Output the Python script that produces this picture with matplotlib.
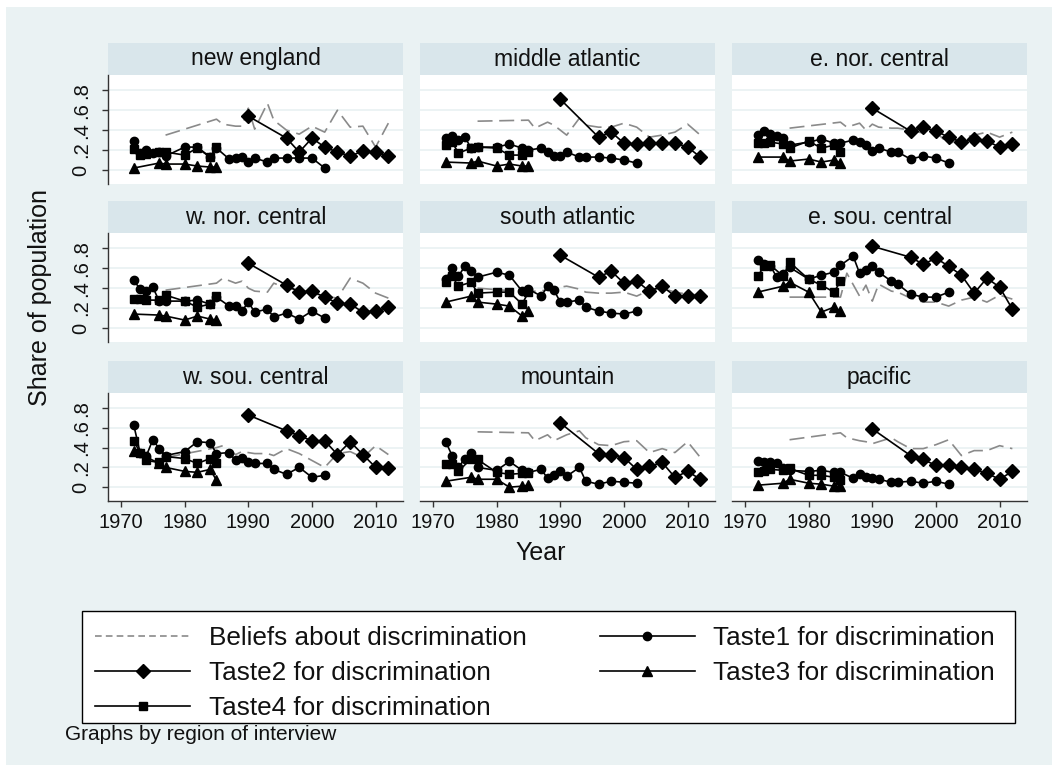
import matplotlib
matplotlib.use("Agg")
import matplotlib.pyplot as plt
from matplotlib.patches import Rectangle
from matplotlib.lines import Line2D

plt.rcParams['font.family'] = ['Liberation Sans', 'DejaVu Sans']

regions = ["new england", "middle atlantic", "e. nor. central",
           "w. nor. central", "south atlantic", "e. sou. central",
           "w. sou. central", "mountain", "pacific"]

years_beliefs = [1977, 1985, 1986, 1988, 1989, 1990, 1991, 1993, 1994, 1996,
                 1998, 2000, 2002, 2004, 2006, 2008, 2010, 2012]
years_t1 = [1972, 1973, 1974, 1975, 1976, 1977, 1980, 1982, 1984, 1985, 1987,
            1988, 1989, 1990, 1991, 1993, 1994, 1996, 1998, 2000, 2002]
years_t2 = [1990, 1996, 1998, 2000, 2002, 2004, 2006, 2008, 2010, 2012]
years_t3 = [1972, 1976, 1977, 1980, 1982, 1984, 1985]
years_t4 = [1972, 1973, 1974, 1976, 1977, 1980, 1982, 1984, 1985]

beliefs = [
    [.35, .51, .46, .44, .44, .62, .41, .67, .50, .40, .36, .44, .38, .60, .43, .44, .23, .47],
    [.49, .50, .42, .48, .45, .40, .35, .52, .45, .43, .43, .47, .43, .33, .35, .38, .46, .35],
    [.42, .48, .43, .47, .40, .46, .43, .42, .42, .40, .37, .38, .26, .32, .35, .38, .33, .38],
    [.38, .45, .50, .45, .47, .40, .37, .36, .45, .40, .38, .35, .32, .30, .50, .45, .35, .30],
    [.40, .36, .37, .38, .40, .41, .42, .39, .36, .35, .35, .36, .32, .38, .40, .36, .34, .33],
    [.31, .31, .55, .32, .43, .27, .44, .37, .36, .30, .26, .26, .22, .28, .31, .26, .33, .29],
    [.30, .40, .42, .33, .36, .35, .34, .34, .32, .39, .34, .27, .20, .34, .36, .30, .42, .33],
    [.56, .55, .47, .53, .47, .50, .53, .57, .50, .43, .42, .46, .47, .35, .39, .35, .46, .30],
    [.48, .55, .50, .47, .46, .44, .46, .50, .46, .39, .39, .43, .48, .32, .37, .37, .42, .39],
]
taste1 = [
    [.29, .17, .20, .17, .18, .14, .23, .23, .13, .22, .11, .12, .13, .08, .12, .08, .12, .12, .12, .12, .02],
    [.32, .34, .30, .33, .22, .23, .23, .26, .22, .20, .22, .18, .14, .14, .18, .13, .13, .13, .12, .10, .07],
    [.35, .39, .36, .34, .32, .25, .28, .31, .27, .27, .30, .28, .25, .19, .22, .18, .18, .11, .14, .12, .07],
    [.48, .39, .37, .41, .27, .27, .27, .28, .24, .31, .22, .22, .17, .26, .16, .19, .11, .15, .09, .17, .10],
    [.49, .60, .52, .62, .57, .51, .56, .53, .37, .39, .32, .42, .38, .26, .26, .28, .21, .17, .15, .14, .17],
    [.68, .64, .62, .51, .54, .61, .49, .53, .56, .63, .72, .55, .58, .62, .56, .47, .44, .34, .31, .31, .36],
    [.63, .35, .32, .48, .39, .32, .36, .46, .45, .34, .35, .27, .30, .25, .24, .24, .18, .13, .20, .10, .12],
    [.46, .32, .20, .29, .35, .20, .17, .26, .17, .15, .18, .09, .12, .16, .11, .20, .06, .03, .06, .05, .04],
    [.26, .25, .25, .24, .19, .17, .16, .17, .15, .15, .09, .13, .10, .09, .08, .05, .05, .06, .04, .06, .03],
]
taste2 = [
    [.54, .32, .18, .32, .23, .18, .14, .19, .18, .14],
    [.71, .33, .38, .27, .26, .27, .27, .27, .23, .13],
    [.62, .39, .43, .39, .33, .28, .31, .29, .23, .26],
    [.65, .43, .36, .37, .31, .25, .24, .16, .17, .21],
    [.73, .51, .57, .45, .47, .37, .42, .32, .32, .32],
    [.82, .71, .64, .70, .62, .53, .35, .50, .41, .19],
    [.73, .57, .52, .47, .47, .33, .46, .33, .20, .19],
    [.65, .34, .33, .30, .18, .21, .25, .10, .16, .08],
    [.59, .32, .28, .22, .22, .20, .18, .14, .08, .16],
]
taste3 = [
    [.02, .07, .06, .06, .04, .03, .03],
    [.08, .07, .09, .04, .06, .04, .04],
    [.13, .13, .09, .11, .08, .10, .07],
    [.14, .13, .12, .08, .12, .09, .08],
    [.26, .32, .26, .24, .22, .12, .17],
    [.36, .42, .46, .36, .16, .21, .17],
    [.37, .24, .20, .16, .15, .18, .07],
    [.06, .10, .08, .08, .00, .01, .02],
    [.02, .04, .08, .04, .03, .01, .01],
]
taste4 = [
    [.21, .15, .16, .18, .18, .15, .22, .13, .23],
    [.25, .28, .17, .22, .23, .22, .15, .15, .18],
    [.27, .27, .28, .26, .22, .29, .22, .25, .18],
    [.29, .29, .28, .28, .33, .27, .21, .24, .32],
    [.46, .52, .42, .46, .35, .36, .36, .24, .36],
    [.52, .62, .63, .52, .66, .49, .43, .36, .47],
    [.47, .35, .27, .25, .31, .29, .24, .29, .24],
    [.23, .23, .16, .29, .28, .15, .13, .14, .14],
    [.15, .16, .18, .17, .19, .12, .12, .10, .07],
]

yticks = [0, .2, .4, .6, .8]
ytick_labels = ["0", ".2", ".4", ".6", ".8"]
xticks = [1970, 1980, 1990, 2000, 2010]
legend_labels = ["Beliefs about discrimination", "Taste1 for discrimination",
                 "Taste2 for discrimination", "Taste3 for discrimination",
                 "Taste4 for discrimination"]

W, H = 1058, 771
BG = '#eaf2f3'
STRIP = '#d9e6eb'
fig = plt.figure(figsize=(W / 100, H / 100), dpi=100, facecolor='white')
fig.patches.append(Rectangle((6 / W, 1 - 765 / H), (1052 - 6) / W, (765 - 7) / H,
                             transform=fig.transFigure, facecolor=BG, edgecolor='none', zorder=-5))

col_left = [108, 420, 732]
pw = 295
row_top = [75, 233, 393]
row_bot = [184, 342, 501]
strip_h = 32

black_kw = dict(color='black', lw=1.2)
for i, reg in enumerate(regions):
    r, c = divmod(i, 3)
    L, T, B = col_left[c], row_top[r], row_bot[r]
    fig.patches.append(Rectangle((L / W, 1 - T / H), pw / W, strip_h / H,
                                 transform=fig.transFigure, facecolor=STRIP,
                                 edgecolor='none', zorder=-4))
    fig.text((L + pw / 2) / W, 1 - (T - strip_h / 2) / H, reg, ha='center', va='center',
             fontsize=16.5, color='#111111')
    ax = fig.add_axes([L / W, 1 - B / H, pw / W, (B - T) / H])
    ax.set_zorder(2)
    ax.set_facecolor('white')
    ax.set_xlim(1967.96, 2014.3)
    ax.set_ylim(-0.14, 0.953)
    ax.set_yticks(yticks)
    ax.set_yticklabels(ytick_labels)
    ax.set_xticks(xticks)
    ax.yaxis.grid(True, color=BG, lw=1.3)
    ax.set_axisbelow(True)
    for s in ax.spines.values():
        s.set_visible(False)
    ax.tick_params(axis='both', length=4.5, width=1, color='#333333', labelsize=14.5,
                   labelcolor='#111111')
    ax.tick_params(axis='y', labelrotation=90, pad=8)
    ax.tick_params(axis='x', pad=4)
    if c == 0:
        ax.spines['left'].set_visible(True)
        ax.spines['left'].set_color('#333333')
        ax.spines['left'].set_linewidth(1)
        for lab in ax.get_yticklabels():
            lab.set_va('center')
    else:
        ax.tick_params(axis='y', left=False, labelleft=False)
    if r == 2:
        ax.spines['bottom'].set_visible(True)
        ax.spines['bottom'].set_color('#333333')
        ax.spines['bottom'].set_linewidth(1)
    else:
        ax.tick_params(axis='x', bottom=False, labelbottom=False)

    ax.plot(years_beliefs, beliefs[i], color='#8a8a8a', lw=1.2, dashes=(9, 4), zorder=2)
    ax.plot(years_t1, taste1[i], marker='o', ms=6, **black_kw, zorder=3)
    ax.plot(years_t2, taste2[i], marker='D', ms=7, **black_kw, zorder=3)
    ax.plot(years_t3, taste3[i], marker='^', ms=7, **black_kw, zorder=3)
    ax.plot(years_t4, taste4[i], marker='s', ms=6, **black_kw, zorder=3)

fig.text(40 / W, 1 - 297 / H, "Share of population", rotation=90, ha='center',
         va='center', fontsize=18, color='#111111')
fig.text(541 / W, 1 - 553 / H, "Year", ha='center', va='center', fontsize=18,
         color='#111111')

# legend frame
fig.patches.append(Rectangle((82 / W, 1 - 723 / H), (1015 - 82) / W, (723 - 611) / H,
                             transform=fig.transFigure, facecolor='white',
                             edgecolor='black', lw=1, zorder=-3))
h_bel = Line2D([], [], color='#8a8a8a', lw=1.2, dashes=(4, 2.5))
h1 = Line2D([], [], color='black', lw=1.2, marker='o', ms=6)
h2 = Line2D([], [], color='black', lw=1.2, marker='D', ms=7)
h3 = Line2D([], [], color='black', lw=1.2, marker='^', ms=7)
h4 = Line2D([], [], color='black', lw=1.2, marker='s', ms=6)
handles = [h_bel, h2, h4, h1, h3]
labels = [legend_labels[0], legend_labels[2], legend_labels[4], legend_labels[1], legend_labels[3]]
leg = fig.legend(handles, labels, ncol=2, loc='center left',
                 bbox_to_anchor=(95 / W, 1 - 673 / H),
                 fontsize=18.8, frameon=False,
                 handlelength=3.65, handletextpad=0.7, labelspacing=0.42,
                 borderpad=0, borderaxespad=0, columnspacing=2.8)
for t in leg.get_texts():
    t.set_color('#111111')

fig.text(65 / W, 1 - 735 / H, "Graphs by region of interview", ha='left', va='center',
         fontsize=15, color='#111111')

fig.savefig("out.png", dpi=100, facecolor='white')
